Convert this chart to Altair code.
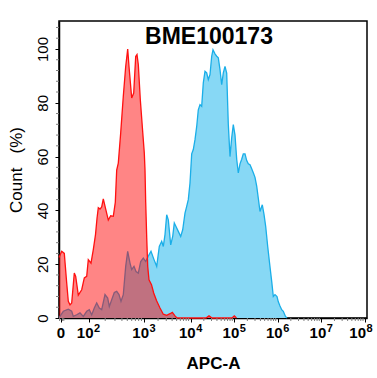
import math
import altair as alt
import pandas as pd

# x = display position along the biexponential APC-A axis (0 = left edge, 308 = right edge)
red_x = [0, 2.7, 5.3, 7.7, 9.3, 11, 12.7, 15.3, 16.7, 19.3, 22.7, 25.3, 27.7, 29.3, 32, 34.3, 36.5, 38, 39.3, 41,
         42.7, 44.3, 46.7, 49.3, 51.7, 54.3, 56.3, 57.7, 59.3, 61.7, 64.3, 66.7, 68.7, 70, 72.7, 74.7, 76.7, 78, 79.3, 81.3,
         83.3, 85.3, 86, 86.7, 87.7, 88.7, 90, 92.5, 94.7, 97.5, 101, 104.3, 107.7, 111, 113.3, 116, 118, 147, 150, 153,
         173, 175.3, 177.5]
red_y = [22.5, 24.8, 24, 13, 6.2, 4.9, 5.6, 16.7, 15.5, 8.5, 10.5, 14.9, 15.5, 21.7, 20.4, 25.4, 31, 37, 41, 40.5,
         41.3, 44.3, 40.5, 36.4, 38, 37.8, 43, 55, 57.6, 68.8, 82.4, 93.5, 100, 93.5, 81.8, 83.6, 97.2, 97.9, 94.2, 81.2,
         71.2, 61.3, 55, 43, 30, 19.2, 14.2, 12.4, 9.3, 6.5, 3.7, 1.4, 1, 1.6, 2.1, 0.8, 0, 0, 0.8, 0,
         0, 0.8, 0]

blue_x = [0, 1, 4.3, 9.3, 12.7, 14.3, 17.7, 21, 24.3, 27.7, 30.3, 32.7, 35.3, 37.7, 40.3, 42.7, 46, 48.7, 50.3, 52.7,
          55.3, 57.7, 60, 62, 64.3, 66.7, 68.7, 71, 72.7, 75, 77, 79.3, 81.7, 84.3, 86.7, 89.3, 92, 95, 97.7, 100.3,
          102.7, 104.3, 106, 107.7, 109.3, 111.7, 113.7, 115.3, 117, 119.3, 121.7, 123.7, 126, 127.7, 129.3, 131, 132.7,
          134.3, 136, 137.7, 139.3, 141, 142.7, 144.3, 146, 147.7, 149.3, 151, 152.7, 154, 156, 157.7, 159.3, 161, 162.7,
          164.3, 166, 167.7, 169.3, 171, 172.7, 174.3, 176, 177.7, 179.3, 181, 182.7, 184.3, 186, 187.7, 189.3, 191,
          192.7, 194.3, 196, 197.7, 199.3, 201, 203.3, 205, 206.7, 208.7, 211, 212.7, 214.3, 216, 218, 219.3, 221, 222.7,
          224.3, 226.5, 228]
blue_y = [0.3, 0.6, 2.5, 3.3, 2.5, 0.6, 1.2, 1.9, 0.6, 2.5, 3.1, 1.2, 3.7, 5.6, 3.7, 3.1, 8.7, 7.4, 4.3, 6.8,
          9.5, 9.9, 8.7, 6.2, 8.7, 19.2, 24.8, 20.4, 18, 19.2, 17.3, 16.7, 21, 22.3, 21, 23, 24.8, 21.7, 19.2, 26.6,
          28.5, 26.6, 31, 38.4, 36.5, 27.2, 30.3, 35.3, 34, 32.2, 30.3, 32.8, 39, 41.5, 44, 50.2, 61, 62.6, 66.3, 71.2,
          77.4, 79.3, 78.7, 87.4, 91.7, 91.1, 88.6, 90.5, 97.3, 99.7, 98.2, 97.3, 96.7, 92.3, 86.7, 91.1, 93.5, 91, 72, 60,
          67, 71.9, 68, 59, 53.9, 57.3, 59, 61, 61, 58.5, 57.3, 57, 55.5, 54, 52.3, 49, 44.5, 39.6, 42.1, 38.5,
          34, 26.6, 19, 13.6, 8, 8.7, 8, 6, 4.5, 3.1, 2.5, 0.6, 0]

# axis tick positions (display units) and their labels ("10" + exponent)
x_tick_pos = [2, 29.5, 85, 131.7, 175.3, 218.7, 262.3, 306]
x_label_pos = [2, 29.5, 85, 131.7, 175.3, 218.7, 262.3, 302]
x_label_base = ["0", "10", "10", "10", "10", "10", "10", "10"]
x_label_exp = ["", "2", "3", "4", "5", "6", "7", "8"]
y_major = [0, 20, 40, 60, 80, 100]

# minor ticks (log spacing within each decade, a few near zero)
x_minor = [0.6, 3.4, 4.8]
for a, b in zip(x_tick_pos[1:-1], x_tick_pos[2:]):
    for m in range(2, 10):
        x_minor.append(round(a + (b - a) * math.log10(m), 2))
y_minor = [v for v in range(0, 110, 4) if v % 20 != 0]

red = pd.DataFrame({"x": red_x, "y": red_y})
blue = pd.DataFrame({"x": blue_x, "y": blue_y})
labels = pd.DataFrame({"x": x_label_pos, "base": x_label_base, "exp": x_label_exp})
zero_lab = labels[labels["exp"] == ""]
pow_lab = labels[labels["exp"] != ""]
xminor_df = pd.DataFrame({"x": x_minor})
yminor_df = pd.DataFrame({"y": y_minor})

FONT = "Liberation Sans"
H = 297

x_scale = alt.Scale(domain=[0, 308], nice=False, zero=False)
y_scale = alt.Scale(domain=[0, 110.4], nice=False)

x_axis = alt.Axis(
    values=x_tick_pos, labels=False,
    title="APC-A", titleFont=FONT, titleFontSize=17, titleFontWeight="bold", titleColor="black",
    titlePadding=33,
    tickSize=4, tickColor="black",
    domainColor="black", domainWidth=1.5, grid=False,
)
y_axis = alt.Axis(
    values=y_major,
    title="Count\u00a0\u00a0\u00a0(%)", titleFont=FONT, titleFontSize=17, titleFontWeight="normal", titleColor="black",
    titlePadding=10,
    labelFont=FONT, labelFontSize=15, labelColor="black", labelAngle=-90,
    labelPadding=5, labelFlush=False,
    tickSize=4, tickColor="black",
    domainColor="black", domainWidth=1.5, grid=False,
)

X = lambda: alt.X("x:Q", scale=x_scale)
Y = lambda: alt.Y("y:Q", scale=y_scale)

blue_area = alt.Chart(blue).mark_area(color="#87D8F5", opacity=1).encode(
    x=alt.X("x:Q", scale=x_scale, axis=x_axis),
    y=alt.Y("y:Q", scale=y_scale, axis=y_axis),
)
blue_line = alt.Chart(blue).mark_line(color="#1AAEE8", strokeWidth=1.3).encode(x=X(), y=Y())
red_area = alt.Chart(red).mark_area(color="#FF0000", opacity=0.48).encode(x=X(), y=Y())
red_line = alt.Chart(red).mark_line(color="#FF1010", strokeWidth=1.3).encode(x=X(), y=Y())

x_minor_ticks = alt.Chart(xminor_df).mark_rule(color="#808080", strokeWidth=1).encode(
    x=X(), y=alt.value(H), y2=alt.value(H + 3)
)
y_minor_ticks = alt.Chart(yminor_df).mark_rule(color="#808080", strokeWidth=1).encode(
    y=Y(), x=alt.value(-3), x2=alt.value(0)
)

zero_text = alt.Chart(zero_lab).mark_text(
    font=FONT, fontSize=15, fontWeight="bold", color="black", align="center", baseline="alphabetic"
).encode(x=X(), y=alt.value(H + 20), text="base:N")
base_text = alt.Chart(pow_lab).mark_text(
    font=FONT, fontSize=15, fontWeight="bold", color="black", align="right", baseline="alphabetic", dx=5
).encode(x=X(), y=alt.value(H + 20), text="base:N")
exp_text = alt.Chart(pow_lab).mark_text(
    font=FONT, fontSize=11, fontWeight="bold", color="black", align="left", baseline="alphabetic", dx=5.5, dy=-6
).encode(x=X(), y=alt.value(H + 20), text="exp:N")

chart = alt.layer(
    blue_area, blue_line, red_area, red_line, x_minor_ticks, y_minor_ticks, zero_text, base_text, exp_text
).properties(
    width=308,
    height=H,
    title=alt.TitleParams(
        "BME100173", font=FONT, fontSize=23, fontWeight="bold", color="black",
        anchor="middle", frame="group", offset=-28, dx=-4,
    ),
    padding={"left": 7, "top": 21, "right": 0, "bottom": 5},
).configure_view(stroke="black", strokeWidth=1.5)

chart.save("out.html", embed_options={"renderer": "svg", "actions": False})
